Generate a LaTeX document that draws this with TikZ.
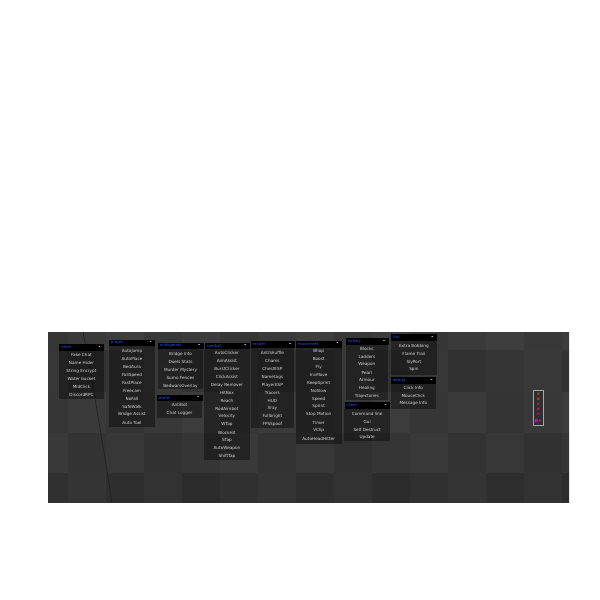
\documentclass[tikz,border=0pt]{standalone}
\usepackage{fontspec}
\setmainfont{DejaVu Sans}
\definecolor{itemgray}{RGB}{218,218,218}
\definecolor{titleblue}{RGB}{40,80,255}
\definecolor{crack}{RGB}{30,30,30}
\definecolor{hudline}{RGB}{165,165,165}
\definecolor{hudA}{RGB}{220,110,40}
\definecolor{hudB}{RGB}{225,60,20}
\definecolor{hudC}{RGB}{215,25,45}
\definecolor{hudD}{RGB}{215,20,80}
\definecolor{hudE}{RGB}{190,20,120}
\definecolor{hudF}{RGB}{230,20,210}
\tikzset{
  itemtext/.style={font=\fontsize{4.2}{5}\selectfont, text=itemgray, inner sep=0pt},
  titletext/.style={font=\fontsize{3.9}{4}\selectfont, text=titleblue, inner sep=0pt, anchor=west},
  minustext/.style={font=\bfseries\fontsize{5}{5}\selectfont, text=white, inner sep=0pt, anchor=east},
  hdrbox/.style={fill=black, draw=none, inner sep=0pt, anchor=north west},
  bodybox/.style={fill=black, fill opacity=0.38, draw=none},
  hudbox/.style={draw=hudline, line width=0.6pt, fill=black, fill opacity=0.15, inner sep=0pt},
  hudletter/.style={font=\bfseries\fontsize{4.4}{4}\selectfont, inner sep=0pt},
}
% #1 id, #2 title, #3 L, #4 R, #5 T, #6 header bottom, #7 bottom, #8 first item y, #9 items
\newcommand{\guipanel}[9]{%
  \fill[bodybox] (#3,#6) rectangle (#4,#7);
  \node[hdrbox, minimum width={(#4)*1pt-(#3)*1pt}, minimum height={(#6)*1pt-(#5)*1pt}] (#1-head) at (#3,#5) {};
  \node[titletext] (#1-title) at ({#3+2},{(#5+#6)/2}) {#2};
  \node[minustext] (#1-min) at ({#4-3},{(#5+#6)/2}) {-};
  \foreach \t [count=\i] in {#9} {
    \node[itemtext] (#1-\i) at ({(#3+#4)/2},{#8+(\i-1)*7.93}) {\t};
  }
}
\begin{document}
\begin{tikzpicture}[x=1pt,y=-1pt]
\useasboundingbox (0,0) rectangle (600,600);
% background screenshot
\begin{scope}
  \clip (48,332) rectangle (569,502.5);
  \foreach \c in {0,...,14} {
    \foreach \r/\ya/\yb/\base in {0/332/350/58, 1/350/392/53, 2/392/433/56, 3/433/473/53, 4/473/503/48} {
      \pgfmathtruncatemacro\v{\base + 2*mod(\c*7+\r*3,5) - 4}
      \definecolor{tilec}{RGB}{\v,\v,\v}
      \fill[tilec] ({30+38*\c},\ya) rectangle ({68+38*\c},\yb);
    }
  }
  \draw[crack, line width=0.6pt] (83,332) .. controls (92,380) and (104,450) .. (112,503);
\end{scope}
% panels
\guipanel{other}{other}{59}{104}{344}{350.5}{398.7}{355.2}{Fake Chat, Name Hider, String Encrypt, Water bucket, MidClick, DiscordRPC}
\guipanel{player}{player}{109}{155}{339.5}{346}{426.7}{351.3}{AutoJump, AutoPlace, BedAura, FallSpeed, FastPlace, Freecam, NoFall, SafeWalk, Bridge Assist, Auto Tool}
\guipanel{mini}{minigames}{157.7}{203.3}{342.3}{348.7}{389.3}{354.3}{Bridge Info, Duels Stats, Murder Mystery, Sumo Fences, BedwarsOverlay}
\guipanel{world}{world}{156.7}{202.3}{394.5}{401}{418}{405.3}{AntiBot, Chat Logger}
\guipanel{combat}{combat}{204.3}{249.6}{342.3}{349}{459.7}{353.3}{AutoClicker, AimAssist, BurstClicker, ClickAssist, Delay Remover, HitBox, Reach, RodAimbot, Velocity, WTap, BlockHit, STap, AutoWeapon, ShiftTap}
\guipanel{render}{render}{250.5}{294.3}{341}{347.3}{427.7}{353.3}{AntiShuffle, Chams, ChestESP, Nametags, PlayerESP, Tracers, HUD, Xray, Fullbright, FPSSpoof}
\guipanel{move}{movement}{295.7}{341.7}{340.3}{347.3}{443.7}{351.3}{Bhop, Boost, Fly, InvMove, KeepSprint, NoSlow, Speed, Sprint, Stop Motion, Timer, VClip, AutoHeadHitter}
\guipanel{hotkey}{hotkey}{345.5}{388.3}{338}{344.5}{400}{348.7}{Blocks, Ladders, Weapon, Pearl, Armour, Healing, Trajectories}
\guipanel{client}{client}{344.3}{390}{402}{408.7}{441.3}{414}{Command line, Gui, Self Destruct, Update}
\guipanel{fun}{fun}{391}{436.7}{334}{340.7}{375}{346}{Extra Bobbing, Flame Trail, SlyPort, Spin}
\guipanel{debug}{debug}{390.7}{436}{376.7}{384}{409}{387.7}{Click Info, MouseClick, Message Info}
% HUD
\node[hudbox, minimum width=10pt, minimum height=35pt] (hud) at (538.6,408.2) {};
\node[hudletter, text=hudA] (hud-r) at (538.4,394.4) {r};
\node[hudletter, text=hudB] (hud-a) at (538.4,399.6) {a};
\node[hudletter, text=hudC] (hud-v) at (538.4,404.6) {v};
\node[hudletter, text=hudD] (hud-e) at (538.4,409.6) {e};
\node[hudletter, text=hudE] (hud-n) at (538.4,414.6) {n};
\node[hudletter, text=hudF] (hud-b) at (538.4,421) {B+};
\end{tikzpicture}
\end{document}
